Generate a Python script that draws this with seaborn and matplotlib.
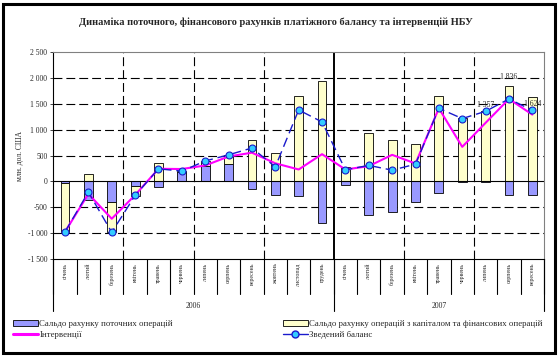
import numpy as np
import pandas as pd
import matplotlib
matplotlib.use("Agg")
import matplotlib.pyplot as plt
from matplotlib.patches import Patch, Rectangle
from matplotlib.lines import Line2D
import seaborn as sns

# months Jan 2006 .. Sep 2007
months = ["січень", "лютий", "березень", "квітень", "травень", "червень",
          "липень", "серпень", "вересень", "жовтень", "листопад", "грудень"]
month_labels = months + months[:9]
years = ["2006", "2007"]
year_sizes = [12, 9]

current_acc = [-25, -353, -404, -83, -115, 192, 290, 340, -154, -269, -288, -808,
               -77, -654, -596, -391, -231, -10, -7, -256, -256]
capital_acc = [-949, 147, -570, -193, 359, 7, 110, 170, 795, 558, 1654, 1942,
               282, 942, 801, 724, 1654, 1231, 1357, 1836, 1624]
interventions = [-970, -240, -718, -262, 244, 240, 308, 481, 555, 350, 231, 526,
                 231, 295, 513, 346, 1410, 667, 1130, 1590, 1288]
balance = [-970, -205, -980, -270, 244, 199, 395, 513, 645, 282, 1378, 1147,
           224, 310, 218, 333, 1410, 1212, 1352, 1590, 1372]
labelled = {18: "1 357", 19: "1 836", 20: "1 624"}

C_CUR = "#9999FF"
C_CAP = "#FFFFCC"
C_INT = "#FF00FF"
C_BAL = "#1A1ACC"
C_MARK = "#33CCFF"

sns.set_style("white")
plt.rcParams["font.family"] = ["Liberation Serif", "DejaVu Serif"]

df = pd.DataFrame({
    "pos": np.arange(len(month_labels)),
    "current": current_acc,
    "capital": capital_acc,
    "interventions": interventions,
    "balance": balance,
})
# excel-style stacking: capital sits on current when both have the same sign
same = np.sign(df["current"]) == np.sign(df["capital"])
df["cap_bottom"] = np.where(same, df["current"], 0)

fig = plt.figure(figsize=(5.59, 3.56), dpi=100)
ax = fig.add_axes([0.0954, 0.2716, 0.8778, 0.5831])

sns.barplot(data=df, x="pos", y="current", color=C_CUR, saturation=1,
            edgecolor="black", linewidth=0.6, width=0.38, errorbar=None, ax=ax)
sns.barplot(data=df, x="pos", y="capital", color=C_CAP, saturation=1,
            edgecolor="black", linewidth=0.6, width=0.38, errorbar=None,
            bottom=df["cap_bottom"].to_numpy(), ax=ax)

ax.axhline(0, color="black", lw=0.8, zorder=1)

sns.lineplot(data=df, x="pos", y="interventions", color=C_INT, lw=1.5,
             ax=ax, zorder=4)
sns.lineplot(data=df, x="pos", y="balance", color=C_BAL, lw=1.0,
             linestyle=(0, (7, 3.5)), marker="o", markersize=5,
             markerfacecolor=C_MARK, markeredgecolor=C_BAL, markeredgewidth=0.8,
             ax=ax, zorder=5)

for i, txt in labelled.items():
    off = {18: 4.5, 19: 6.5, 20: -5}[i]
    ax.annotate(txt, (i, df["capital"][i] + df["cap_bottom"][i]),
                xytext=(0, off), textcoords="offset points",
                ha="center", va="center", fontsize=5.5, zorder=6)

# grid
ax.set_ylim(-1500, 2500)
ax.set_xlim(-0.5, len(month_labels) - 0.5)
for v in [2000, 1500, 1000, 500, -500, -1000]:
    ax.axhline(v, color="black", lw=0.8, ls=(0, (8, 3.6)), zorder=0)
for b in [2.5, 5.5, 8.5, 14.5, 17.5]:
    ax.axvline(b, color="black", lw=0.8, ls=(0, (8, 3.6)), zorder=0)
ax.axvline(11.5, color="black", lw=1.4, zorder=0)

yt = np.arange(-1500, 2501, 500)
ax.set_yticks(yt)
ax.set_yticklabels([f"{v:,}".replace(",", " ") for v in yt], fontsize=5.5)
ax.tick_params(axis="y", length=2.2, width=0.6, pad=2, left=True)
ax.set_xticks(df["pos"])
ax.set_xticklabels(month_labels, rotation=90, fontsize=4.2)
ax.tick_params(axis="x", length=0, pad=2.5)
ax.set_xlabel("")
ax.set_ylabel("млн. дол. США", fontsize=5.5, labelpad=3)

for side in ["top", "right"]:
    ax.spines[side].set_color("#808080")
    ax.spines[side].set_linewidth(0.8)
for side in ["left", "bottom"]:
    ax.spines[side].set_color("black")
    ax.spines[side].set_linewidth(0.8)

# category separators under the axis
tr = ax.get_xaxis_transform()
for b in np.arange(-0.5, len(month_labels), 1.0):
    ax.plot([b, b], [0, -0.167], transform=tr, color="black", lw=0.8,
            clip_on=False)
start = 0
for yr, n in zip(years, year_sizes):
    left = start - 0.5
    ax.plot([left, left], [0, -0.25], transform=tr, color="black", lw=0.8,
            clip_on=False)
    ax.text(start + (n - 1) / 2, -0.225, yr, transform=tr, ha="center",
            va="center", fontsize=5.5)
    start += n
ax.plot([start - 0.5] * 2, [0, -0.25], transform=tr, color="black", lw=0.8,
        clip_on=False)

fig.text(0.494, 0.937, "Динаміка поточного, фінансового рахунків платіжного "
         "балансу та інтервенцій НБУ", ha="center", va="center",
         fontsize=7.45, fontweight="bold")

h_cur = Patch(facecolor=C_CUR, edgecolor="black", lw=0.6)
h_cap = Patch(facecolor=C_CAP, edgecolor="black", lw=0.6)
h_int = Line2D([], [], color=C_INT, lw=2.2)
h_bal = Line2D([], [], color=C_BAL, lw=1.0, marker="o", markersize=5,
               markerfacecolor=C_MARK, markeredgecolor=C_BAL)
leg_kw = dict(loc="upper left", frameon=False, fontsize=6.3, handlelength=2.8,
              handleheight=0.6, handletextpad=0.2, labelspacing=0.35,
              borderpad=0, borderaxespad=0)
fig.legend([h_cur, h_int], ["Сальдо рахунку поточних операцій", "Інтервенції"],
           bbox_to_anchor=(13 / 559, 1 - 320 / 356), **leg_kw)
fig.legend([h_cap, h_bal], ["Сальдо рахунку операцій з капіталом та фінансових операцій",
                            "Зведений баланс"],
           bbox_to_anchor=(283 / 559, 1 - 320 / 356), **leg_kw)

fig.patches.append(Rectangle((3 / 559, 3 / 356), 552 / 559, 349 / 356,
                             transform=fig.transFigure, fill=False,
                             edgecolor="black", lw=2.2))

fig.savefig("out.png", dpi=100)
